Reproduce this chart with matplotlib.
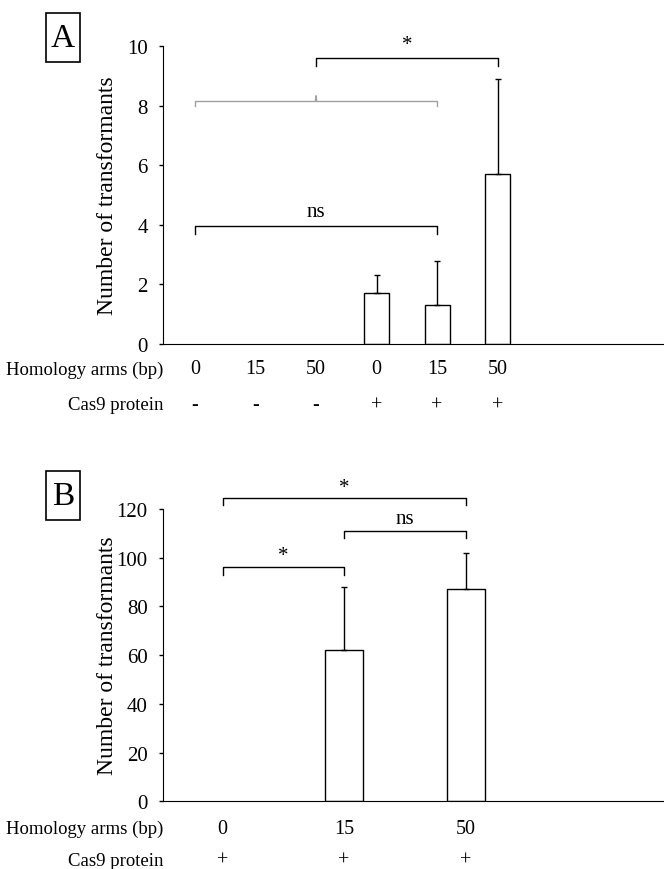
import numpy as np
import matplotlib
matplotlib.use("Agg")
import matplotlib.pyplot as plt
from matplotlib.patches import Rectangle

plt.rcParams["font.family"] = ["Liberation Serif", "DejaVu Serif"]

# panel A
arms_a = ["0", "15", "50", "0", "15", "50"]
cas9_a = ["-", "-", "-", "+", "+", "+"]
mean_a = [0, 0, 0, 1.7, 1.3, 5.7]
err_a = [0, 0, 0, 0.6, 1.5, 3.2]

# panel B
arms_b = ["0", "15", "50"]
cas9_b = ["+", "+", "+"]
mean_b = [0, 62, 87]
err_b = [0, 26, 15]

fig = plt.figure(figsize=(6.64, 8.7), dpi=100)
W, H = 664.0, 870.0

def make_axes(x0, x1, ytop, ybot):
    return fig.add_axes([x0 / W, 1 - ybot / H, (x1 - x0) / W, (ybot - ytop) / H])

axA = make_axes(163, 664, 47, 345)
axB = make_axes(163, 664, 510, 802.3)

def style(ax, ylim, step, xlim):
    ax.set_ylim(*ylim)
    ax.set_xlim(*xlim)
    ax.set_yticks(np.arange(ylim[0], ylim[1] + 0.1, step))
    ax.spines["top"].set_visible(False)
    ax.spines["right"].set_visible(False)
    ax.set_xticks([])
    ax.tick_params(axis="y", direction="out", length=3, width=1, pad=8, labelsize=15)
    ax.text(-0.11, 0.5, "Number of transformants", transform=ax.transAxes,
            rotation=90, ha="center", va="center", fontsize=17)

def bars(ax, means, errs, width):
    x = np.arange(len(means))
    edges = ["black" if m > 0 else "none" for m in means]
    ax.bar(x, means, width=width, color="white", edgecolor=edges, linewidth=1)
    for xi, m, e in zip(x, means, errs):
        if e > 0:
            ax.errorbar(xi, m, yerr=[[0], [e]], color="black", lw=1, capsize=2, capthick=1)

def rows(ax, arms, cas9, y1, y2):
    tr = ax.get_xaxis_transform()
    h = ax.bbox.height
    for i, (a, c) in enumerate(zip(arms, cas9)):
        ax.text(i, -y1 / h, a, transform=tr, ha="center", va="center", fontsize=14.5, clip_on=False)
        ax.text(i, -y2 / h, c, transform=tr, ha="center", va="center", fontsize=14.5, clip_on=False)
    ax.text(0, -y1 / h, "Homology arms (bp)", transform=ax.transAxes, ha="right", va="center", fontsize=13.5)
    ax.text(0, -y2 / h, "Cas9 protein", transform=ax.transAxes, ha="right", va="center", fontsize=13.5)

def bracket(ax, x1, x2, y, leg, text=None, ty=None, color="black"):
    ax.plot([x1, x1, x2, x2], [y - leg, y, y, y - leg], color=color, lw=1, clip_on=False)
    if text:
        ax.text((x1 + x2) / 2, ty, text, ha="center", va="center", fontsize=15, clip_on=False)

fig.canvas.draw()

style(axA, (0, 10), 2, (-0.53, 7.75))
bars(axA, mean_a, err_a, 0.41)
rows(axA, arms_a, cas9_a, 25, 61)
bracket(axA, 0, 4, 3.97, 0.28, "ns", 4.45)
bracket(axA, 0, 4, 8.16, 0.18, color="#a0a0a0")
axA.plot([1.99, 2.0, 2.01], [8.16, 8.33, 8.16], color="#a0a0a0", lw=1)
bracket(axA, 2, 5, 9.59, 0.25, "*", 10.05)

style(axB, (0, 120), 20, (-0.49, 3.63))
bars(axB, mean_b, err_b, 0.31)
rows(axB, arms_b, cas9_b, 27, 59)
bracket(axB, 0, 2, 124.6, 2.9, "*", 129)
bracket(axB, 1, 2, 111.1, 3.1, "ns", 116)
bracket(axB, 0, 1, 96.3, 3.3, "*", 100.9)

for label, top in (("A", 14), ("B", 472)):
    fig.patches.append(Rectangle((46 / W, 1 - (top + 49) / H), 34 / W, 49 / H,
                                 transform=fig.transFigure, fill=False, ec="black", lw=1.2))
    fig.text(63 / W, 1 - (top + 24.5) / H, label, ha="center", va="center", fontsize=24)

fig.savefig("out.png", dpi=100)
